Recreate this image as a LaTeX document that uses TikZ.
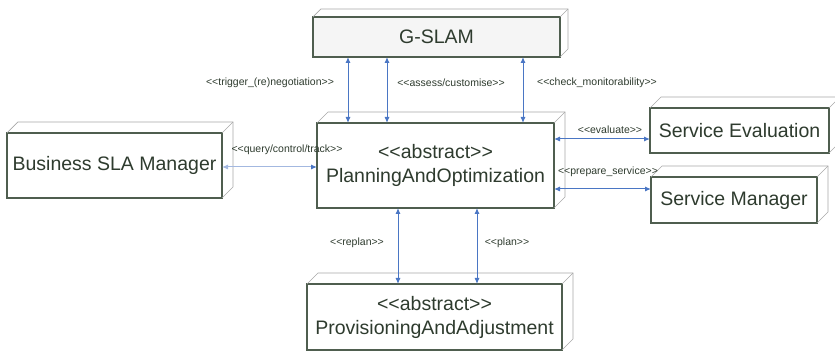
\documentclass[tikz,border=0pt]{standalone}
\usepackage{fontspec}
\setmainfont{Liberation Sans}
\usetikzlibrary{arrows.meta}
\definecolor{txt}{HTML}{2E3B2E}
\definecolor{edge}{HTML}{4F5E4F}
\definecolor{back}{HTML}{A8A8A8}
\definecolor{link}{HTML}{4A76C4}
\definecolor{linklt}{HTML}{A3B8E0}
\newcommand\stl[1]{<{}<#1>{}>}
\tikzset{
  box/.style={draw=edge, line width=1.3pt, fill=white, rectangle, inner sep=0pt, outer sep=0pt,
    anchor=north west, text=txt, align=center, font=\fontsize{19.5}{24}\selectfont},
  backedge/.style={draw=back, line width=0.7pt},
  link/.style={draw=link, line width=1pt, {Latex[length=6pt,width=5pt]}-{Latex[length=6pt,width=5pt]}},
  lbl/.style={text=txt, font=\fontsize{10.5}{12}\selectfont, inner sep=1pt}
}
\newcommand\depthbox[2]{%
  \draw[backedge] (#1.north west) -- ++(#2,#2) -- ([shift={(#2,#2)}]#1.north east)
    -- ([shift={(#2,#2)}]#1.south east) -- (#1.south east);
  \draw[backedge] (#1.north east) -- ++(#2,#2);}
\begin{document}
\begin{tikzpicture}[x=1pt,y=1pt]
\useasboundingbox (0,0) rectangle (835,352);
% nodes
\node[box, fill=black!4, minimum width=247pt, minimum height=40pt] (gslam) at (313,335) {G-SLAM};
\node[box, minimum width=215pt, minimum height=65pt] (bsla) at (7,219) {Business SLA Manager};
\node[box, minimum width=237pt, minimum height=85pt] (po) at (317,229) {\stl{abstract}\\PlanningAndOptimization};
\node[box, minimum width=179pt, minimum height=45pt] (seval) at (650,244) {Service Evaluation};
\node[box, minimum width=166pt, minimum height=46pt] (sman) at (651,175) {Service Manager};
\node[box, minimum width=255pt, minimum height=66pt] (prov) at (307,68) {\stl{abstract}\\ProvisioningAndAdjustment};
\depthbox{gslam}{8}
\depthbox{bsla}{11}
\depthbox{po}{11}
\depthbox{seval}{11}
\depthbox{sman}{11}
\depthbox{prov}{11}
% connectors G-SLAM <-> P&O
\draw[link] ([xshift=31pt]po.north west |- gslam.south) -- ([xshift=31pt]po.north west);
\draw[link] ([xshift=70pt]po.north west |- gslam.south) -- ([xshift=70pt]po.north west);
\draw[link] ([xshift=206pt]po.north west |- gslam.south) -- ([xshift=206pt]po.north west);
% Business <-> P&O
\draw[draw=linklt, line width=1pt, {Latex[length=6pt,width=5pt,color=linklt]}-{Latex[length=6pt,width=5pt,color=link]}]
  ([yshift=31pt]bsla.south east) -- ([yshift=31pt]bsla.south east -| po.west);
% P&O <-> services
\draw[link] ([yshift=14pt]po.east |- seval.south) -- ([yshift=14pt]seval.south west);
\draw[link] ([yshift=-12pt]po.east |- sman.north) -- ([yshift=-12pt]sman.north west);
% P&O <-> Provisioning
\draw[link] ([xshift=81pt]po.south west) -- ([xshift=81pt]po.south west |- prov.north);
\draw[link] ([xshift=160pt]po.south west) -- ([xshift=160pt]po.south west |- prov.north);
% labels
\node[lbl] (l1) at (270,269) {\stl{trigger\_(re)negotiation}};
\node[lbl] (l2) at (451,269) {\stl{assess/customise}};
\node[lbl] (l3) at (597,269) {\stl{check\_monitorability}};
\node[lbl] (l4) at (287,202) {\stl{query/control/track}};
\node[lbl] (l5) at (610,222) {\stl{evaluate}};
\node[lbl] (l6) at (608,180) {\stl{prepare\_service}};
\node[lbl] (l7) at (357,109) {\stl{replan}};
\node[lbl] (l8) at (507,109) {\stl{plan}};
\end{tikzpicture}
\end{document}
